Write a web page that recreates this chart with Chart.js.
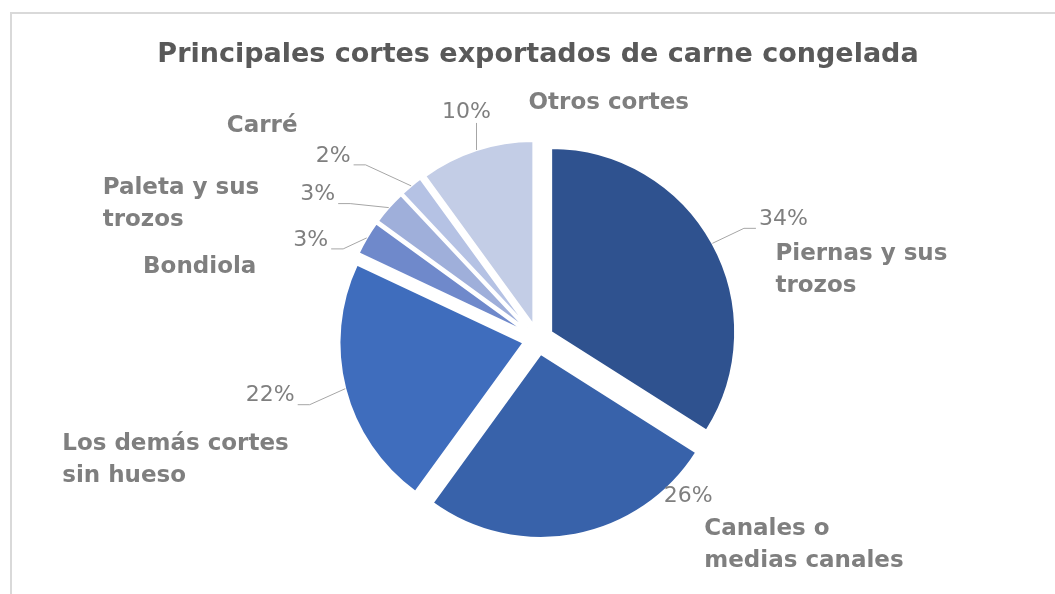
<!DOCTYPE html>
<html lang="es">
<head>
<meta charset="utf-8">
<title>Principales cortes exportados de carne congelada</title>
<script src="https://cdn.jsdelivr.net/npm/chart.js@4.4.1/dist/chart.umd.min.js"></script>
<style>
  html, body { margin: 0; padding: 0; background: #fff; overflow: hidden; }
  #marco { position: absolute; left: 10px; top: 12px; width: 1100px; height: 700px;
           border-left: 2px solid #d9d9d9; border-top: 2px solid #d9d9d9; }
  #grafico { position: absolute; left: 0; top: 0; }
</style>
</head>
<body>
<div id="marco"></div>
<canvas id="grafico" width="1055" height="594"></canvas>
<script>
const titulo = 'Principales cortes exportados de carne congelada';
const categorias = [
  ['Piernas y sus', 'trozos'],
  ['Canales o', 'medias canales'],
  ['Los demás cortes', 'sin hueso'],
  ['Bondiola'],
  ['Paleta y sus', 'trozos'],
  ['Carré'],
  ['Otros cortes']
];
const valores = [34, 26, 22, 3, 3, 2, 10];
const colores = ['#2f528f', '#3862aa', '#3f6dbd', '#6f89cb', '#9fafda', '#b5c2e4', '#c3cde6'];

// label placement, measured from the slice edge at its mid angle (px)
const posPct = [[71, -24], [113, -38], [-75, 7], [-56, 2], [-71, -13], [-78, -30], [-10, -38]];
const posNombre = [[63, 11], [129, -6], [-283, 55], [-167, 29], [-286, -20], [-149, -60], [52, -47]];
const alinNombre = ['left', 'left', 'left', 'center', 'left', 'center', 'left'];
const conGuia = [true, false, true, true, true, true, true];

const EXPLOTA = 15;
const GRIS = '#7f7f7f';

// push every slice outwards along its mid angle (Excel style "explode")
const explota = {
  id: 'explota',
  afterDatasetUpdate(chart, args) {
    args.meta.data.forEach(arc => {
      const mid = (arc.startAngle + arc.endAngle) / 2;
      arc.x += Math.cos(mid) * EXPLOTA;
      arc.y += Math.sin(mid) * EXPLOTA;
    });
  }
};

const etiquetas = {
  id: 'etiquetas',
  afterDatasetsDraw(chart) {
    const ctx = chart.ctx;
    const arcs = chart.getDatasetMeta(0).data;
    const total = valores.reduce((a, b) => a + b, 0);
    ctx.save();
    arcs.forEach((arc, i) => {
      const { x, y, startAngle, endAngle, outerRadius } =
        arc.getProps(['x', 'y', 'startAngle', 'endAngle', 'outerRadius'], true);
      const mid = (startAngle + endAngle) / 2;
      const ex = x + Math.cos(mid) * outerRadius;
      const ey = y + Math.sin(mid) * outerRadius;

      const pct = Math.round(valores[i] / total * 100) + '%';
      const px = ex + posPct[i][0];
      const py = ey + posPct[i][1];
      ctx.font = '22px "DejaVu Sans"';
      ctx.fillStyle = GRIS;
      ctx.textAlign = 'center';
      ctx.textBaseline = 'middle';
      ctx.fillText(pct, px, py);
      const w = ctx.measureText(pct).width;

      if (conGuia[i]) {
        ctx.strokeStyle = '#a6a6a6';
        ctx.lineWidth = 1;
        ctx.beginPath();
        if (ex > px - w / 2 && ex < px + w / 2) {
          ctx.moveTo(ex, py + 11);
          ctx.lineTo(ex, ey);
        } else {
          const lado = ex > px ? 1 : -1;
          const ax = px + lado * (w / 2 + 3);
          const ay = py + 9;
          ctx.moveTo(ax, ay);
          ctx.lineTo(ax + lado * 12, ay);
          ctx.lineTo(ex, ey);
        }
        ctx.stroke();
      }

      ctx.font = 'bold 23px "DejaVu Sans"';
      ctx.textAlign = alinNombre[i];
      categorias[i].forEach((linea, k) => {
        ctx.fillText(linea, ex + posNombre[i][0], ey + posNombre[i][1] + k * 32);
      });
    });
    ctx.restore();
  }
};

new Chart(document.getElementById('grafico'), {
  type: 'pie',
  data: {
    labels: categorias,
    datasets: [{
      data: valores,
      backgroundColor: colores,
      borderColor: '#ffffff',
      borderWidth: 2,
      clip: false
    }]
  },
  options: {
    responsive: false,
    animation: false,
    radius: 184,
    layout: { padding: { left: 21, right: 0, top: 0, bottom: 70 } },
    plugins: {
      legend: { display: false },
      tooltip: { enabled: false },
      title: {
        display: true,
        text: titulo,
        color: '#595959',
        font: { family: 'DejaVu Sans', size: 27, weight: 'bold' },
        padding: { top: 39, bottom: 83 }
      }
    }
  },
  plugins: [explota, etiquetas]
});
</script>
</body>
</html>
